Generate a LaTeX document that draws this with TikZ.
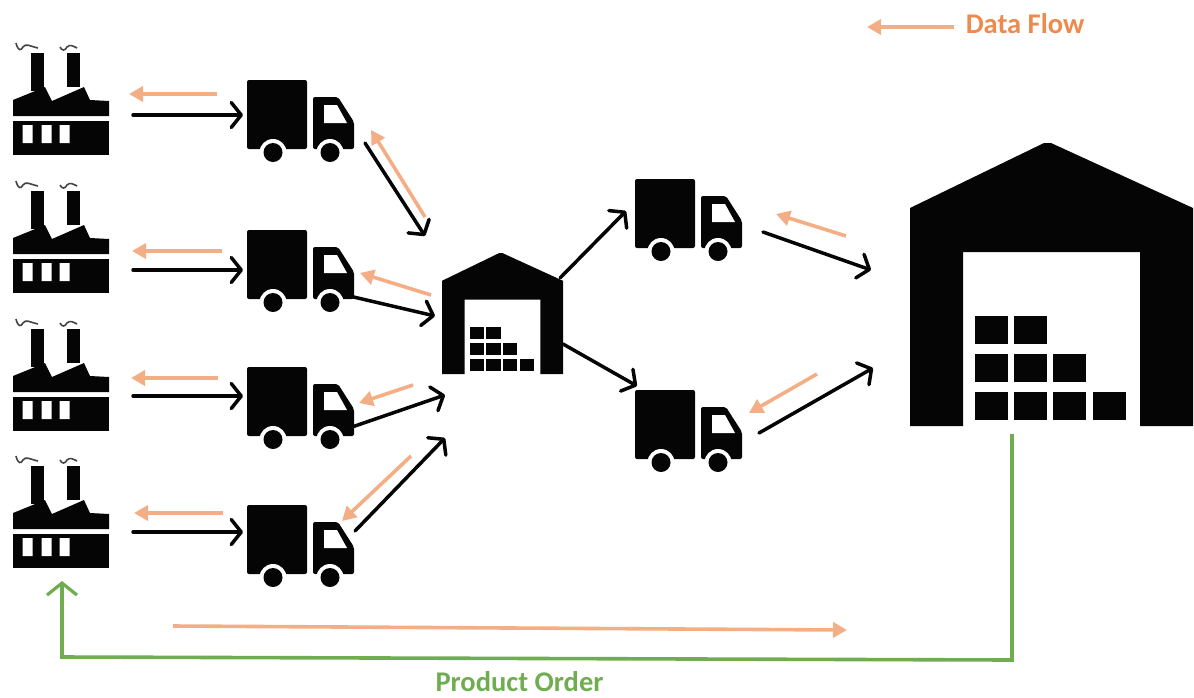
\documentclass[tikz,border=0pt]{standalone}
\usepackage{fontspec}
\setmainfont{Carlito}
\usetikzlibrary{arrows.meta}
\definecolor{dataorange}{HTML}{F4AE85}
\definecolor{datatext}{HTML}{EE8A4E}
\definecolor{ordergreen}{HTML}{6FAD50}
\definecolor{ink}{HTML}{050505}
\tikzset{
  goods/.style={draw=ink,line width=3.5pt,line cap=round,line join=round,-{Straight Barb[length=10pt,width=25pt,line width=3.5pt,round]}},
  datalink/.style={draw=dataorange,line width=3.6pt,-{Triangle[length=14pt,width=15pt]}},
  orderlink/.style={draw=ordergreen,line width=3.6pt,line join=miter,-{Straight Barb[length=12pt,width=30pt,line width=3.2pt]}},
  factory/.pic={
    \fill[ink] (0,0) rectangle (96,-34);
    \fill[ink] (0,-39) -- (0,-55) -- (32,-68) -- (39,-54) -- (71,-68) -- (77,-55) -- (96,-54) -- (96,-39) -- cycle;
    \fill[ink] (18,-64) rectangle (31,-102);
    \fill[ink] (54,-68) rectangle (67,-102);
    \fill[white] (9.5,-12) rectangle (19.5,-30) (28.5,-12) rectangle (38.5,-30) (46.5,-12) rectangle (56.5,-30);
    \draw[ink!75,line width=1.6pt] (3,-112) .. controls (5,-104) and (8,-104) .. (10,-108) .. controls (13,-112) and (16,-109) .. (25,-107);
    \draw[ink!75,line width=1.6pt] (47,-108) .. controls (49,-104) and (52,-104) .. (54,-108) .. controls (57,-111) and (60,-109) .. (64,-107);
  },
  truck/.pic={
    \fill[ink,rounded corners=2pt] (0,0) rectangle (60,69);
    \fill[ink,rounded corners=2pt] (66,17) -- (91,17) -- (107,42) -- (107,69) -- (66,69) -- cycle;
    \fill[white] (77,25) -- (90,25) -- (100,43) -- (77,43) -- cycle;
    \fill[white] (26,72.5) circle (13.5) (83,72.5) circle (13.5);
    \fill[ink] (26,72.5) circle (9.5) (83,72.5) circle (9.5);
  },
  warehouse/.pic={
    \fill[ink] (0,283) -- (0,65) -- (134,0) -- (141,0) -- (283,65) -- (283,283) -- (230,283) -- (230,109) -- (53,109) -- (53,283) -- cycle;
    \foreach \px/\py in {65/173,104/173,65/211,104/211,143/211,65/249,104/249,143/249,183/249}
      \fill[ink] (\px,\py) rectangle ++(33,28);
  }
}
\newcommand{\flowlink}[4]{\coordinate (#1s) at (#3); \coordinate (#1e) at (#4); \draw[#2] (#1s) -- (#1e);}
\begin{document}
\begin{tikzpicture}[x=1pt,y=-1pt]
\useasboundingbox (0,0) rectangle (1194,697);
\pic (f1) at (13,155) {factory};
\pic (f2) at (13,293) {factory};
\pic (f3) at (13,431) {factory};
\pic (f4) at (13,568) {factory};
\pic (t1) at (247,80) {truck};
\pic (t2) at (247,230) {truck};
\pic (t3) at (247,367) {truck};
\pic (t4) at (247,505) {truck};
\pic (t5) at (635,179) {truck};
\pic (t6) at (635,390) {truck};
\begin{scope}[shift={(442,253)},x=.4276pt,y=-.4276pt]
\pic (w1) at (0,0) {warehouse};
\end{scope}
\pic (w2) at (910,143) {warehouse};

\flowlink{a1}{goods}{133,115}{243,115}
\flowlink{a2}{goods}{133,270}{243,270}
\flowlink{a3}{goods}{133,396}{243,396}
\flowlink{a4}{goods}{133,532}{243,532}
\flowlink{b1}{datalink}{217,94}{129,94}
\flowlink{b2}{datalink}{222,251}{132,251}
\flowlink{b3}{datalink}{218,378}{131,378}
\flowlink{b4}{datalink}{223,513}{134,513}
\flowlink{c1}{goods}{365,143}{425,236}
\flowlink{c2}{goods}{345,295}{435,316}
\flowlink{c3}{goods}{352,427}{445,395}
\flowlink{c4}{goods}{355,531}{445,438}
\flowlink{d1}{datalink}{425,217}{371,130}
\flowlink{d2}{datalink}{431,295}{360,273}
\flowlink{d3}{datalink}{413,385}{359,403}
\flowlink{d4}{datalink}{411,456}{342,521}
\flowlink{e1}{goods}{560,278}{626,211}
\flowlink{e2}{goods}{563,344}{637,386}
\flowlink{g1}{goods}{763,232}{871,270}
\flowlink{g2}{goods}{759,433}{873,368}
\flowlink{h1}{datalink}{846,236}{776,214}
\flowlink{h2}{datalink}{817,374}{749,413}
\flowlink{k1}{datalink}{954,27}{867,27}
\flowlink{k2}{datalink}{173,626}{847,630}
\coordinate (os) at (1012,434);
\coordinate (oc1) at (1012,660);
\coordinate (oc2) at (62,657);
\coordinate (oe) at (62,581);
\draw[orderlink] (os) -- (oc1) -- (oc2) -- (oe);
\node[font=\bfseries\fontsize{28.5}{30}\selectfont,text=datatext,inner sep=0pt] (legend) at (1025,24) {Data Flow};
\node[font=\bfseries\fontsize{28.5}{30}\selectfont,text=ordergreen,inner sep=0pt] (order) at (519.5,682) {Product Order};
\end{tikzpicture}
\end{document}
